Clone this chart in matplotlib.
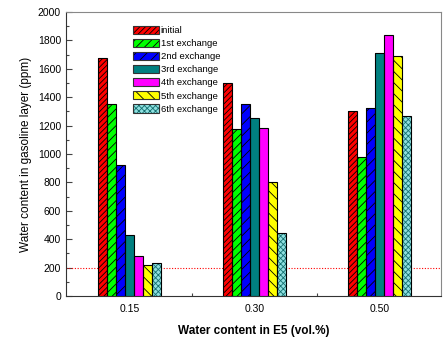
import matplotlib
matplotlib.use("Agg")
import matplotlib.pyplot as plt
import numpy as np
from matplotlib.patches import Patch
from matplotlib.legend_handler import HandlerTuple
from matplotlib.ticker import MultipleLocator, FixedLocator

plt.rcParams['font.family'] = ['Liberation Sans', 'DejaVu Sans']
plt.rcParams['hatch.linewidth'] = 0.6

# data
groups = ['0.15', '0.30', '0.50']
series = ['initial', '1st exchange', '2nd exchange', '3rd exchange',
          '4th exchange', '5th exchange', '6th exchange']
values = [
    [1680, 1500, 1305],   # initial
    [1350, 1175, 980],    # 1st
    [920, 1355, 1325],    # 2nd
    [430, 1255, 1715],    # 3rd
    [280, 1180, 1840],    # 4th
    [220, 805, 1690],     # 5th
    [230, 445, 1265],     # 6th
]
limit = 200

faces = ['#ff0000', '#00ff00', '#0000ff', '#008080', '#ff00ff', '#ffff00', '#8fe0e0']
hatches = ['//////', '////', '///', None, None, '\\\\\\', 'xxxxxx']
hatch_cols = ['black', 'black', 'black', 'black', 'black', 'black', '#137070']

fig = plt.figure(figsize=(4.48, 3.45), dpi=100)
ax = fig.add_axes([0.147, 0.142, 0.837, 0.823])

x = np.arange(1, len(groups) + 1)
w = 0.072
handles = []
for i, name in enumerate(series):
    pos = x + (i - 3) * w
    ax.bar(pos, values[i], width=w, color=faces[i], hatch=hatches[i],
           edgecolor=hatch_cols[i], linewidth=0, zorder=3)
    ax.bar(pos, values[i], width=w, fill=False, edgecolor='black',
           linewidth=0.8, zorder=4)
    # hatched fill + black outline stacked in the legend
    handles.append((Patch(facecolor=faces[i], hatch=hatches[i],
                          edgecolor=hatch_cols[i], linewidth=0),
                    Patch(fill=False, edgecolor='#333333', linewidth=0.8)))

ax.axhline(limit, color='red', linestyle=(0, (1, 1.5)), linewidth=0.8, zorder=2)

ax.set_xlim(0.49, 3.49)
ax.set_ylim(0, 2000)
ax.set_xticks(x)
ax.set_xticklabels(groups)
ax.xaxis.set_minor_locator(FixedLocator([1.5, 2.5]))
ax.yaxis.set_major_locator(MultipleLocator(200))
ax.yaxis.set_minor_locator(MultipleLocator(100))
ax.tick_params(which='both', direction='in', labelsize=7.5, colors='#444444',
               labelcolor='black', width=0.8)
ax.tick_params(which='major', length=4)
ax.tick_params(which='minor', length=2)
ax.tick_params(axis='x', which='major', pad=6)

for s in ['left', 'bottom']:
    ax.spines[s].set_color('#333333')
for s in ['top', 'right']:
    ax.spines[s].set_color('#888888')

ax.set_ylabel('Water content in gasoline layer (ppm)', fontsize=8.5)
ax.set_xlabel('Water content in E5 (vol.%)', fontsize=8.5, fontweight='bold', labelpad=8)

ax.legend(handles, series, loc='upper left', bbox_to_anchor=(0.17, 0.965),
          frameon=False, fontsize=6.8, handlelength=2.7, handleheight=0.95,
          labelspacing=0.4, handletextpad=0.2, borderaxespad=0,
          handler_map={tuple: HandlerTuple(ndivide=1, pad=0)})

fig.savefig('out.png', dpi=100)
